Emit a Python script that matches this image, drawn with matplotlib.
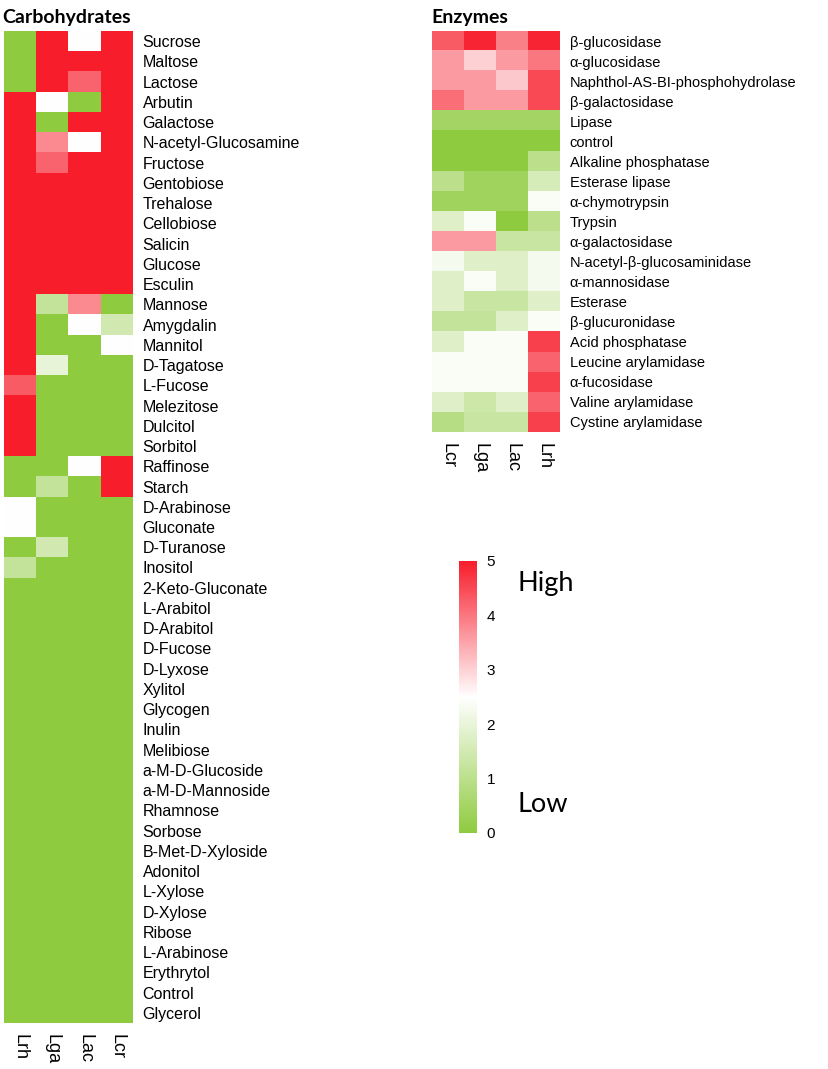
import numpy as np
import matplotlib
matplotlib.use("Agg")
import matplotlib.pyplot as plt
from matplotlib.colors import LinearSegmentedColormap

# ---------------- data ----------------
carb_strains = ["Lrh", "Lga", "Lac", "Lcr"]
carb_names = ["Sucrose", "Maltose", "Lactose", "Arbutin", "Galactose",
              "N-acetyl-Glucosamine", "Fructose", "Gentobiose", "Trehalose",
              "Cellobiose", "Salicin", "Glucose", "Esculin", "Mannose",
              "Amygdalin", "Mannitol", "D-Tagatose", "L-Fucose", "Melezitose",
              "Dulcitol", "Sorbitol", "Raffinose", "Starch", "D-Arabinose",
              "Gluconate", "D-Turanose", "Inositol", "2-Keto-Gluconate",
              "L-Arabitol", "D-Arabitol", "D-Fucose", "D-Lyxose", "Xylitol",
              "Glycogen", "Inulin", "Melibiose", "a-M-D-Glucoside",
              "a-M-D-Mannoside", "Rhamnose", "Sorbose", "B-Met-D-Xyloside",
              "Adonitol", "L-Xylose", "D-Xylose", "Ribose", "L-Arabinose",
              "Erythrytol", "Control", "Glycerol"]
carb_Lrh = [0, 0, 0, 5, 5, 5, 5, 5, 5, 5, 5, 5, 5, 5, 5, 5, 5, 4.3, 5, 5, 5,
            0, 0, 2.5, 2.5, 0, 1.2, 0, 0, 0, 0, 0, 0, 0, 0, 0, 0, 0, 0, 0,
            0, 0, 0, 0, 0, 0, 0, 0, 0]
carb_Lga = [5, 5, 5, 2.5, 0, 3.8, 4.2, 5, 5, 5, 5, 5, 5, 1.2, 0, 0, 2.0, 0,
            0, 0, 0, 0, 1.2, 0, 0, 1.5, 0, 0, 0, 0, 0, 0, 0, 0, 0, 0, 0, 0,
            0, 0, 0, 0, 0, 0, 0, 0, 0, 0, 0]
carb_Lac = [2.5, 5, 4.2, 0, 5, 2.5, 5, 5, 5, 5, 5, 5, 5, 3.8, 2.5, 0, 0, 0,
            0, 0, 0, 2.5, 0, 0, 0, 0, 0, 0, 0, 0, 0, 0, 0, 0, 0, 0, 0, 0,
            0, 0, 0, 0, 0, 0, 0, 0, 0, 0, 0]
carb_Lcr = [5, 5, 5, 5, 5, 5, 5, 5, 5, 5, 5, 5, 5, 0, 1.5, 2.5, 0, 0, 0, 0,
            0, 5, 5, 0, 0, 0, 0, 0, 0, 0, 0, 0, 0, 0, 0, 0, 0, 0, 0, 0, 0,
            0, 0, 0, 0, 0, 0, 0, 0]

enz_strains = ["Lcr", "Lga", "Lac", "Lrh"]
enz_names = ["β-glucosidase", "α-glucosidase", "Naphthol-AS-BI-phosphohydrolase",
             "β-galactosidase", "Lipase", "control", "Alkaline phosphatase",
             "Esterase lipase", "α-chymotrypsin", "Trypsin", "α-galactosidase",
             "N-acetyl-β-glucosaminidase", "α-mannosidase", "Esterase",
             "β-glucuronidase", "Acid phosphatase", "Leucine arylamidase",
             "α-fucosidase", "Valine arylamidase", "Cystine arylamidase"]
enz_Lcr = [4.3, 3.6, 3.6, 4.1, 0.5, 0, 0, 1.0, 0.4, 1.8, 3.6, 2.3, 1.8, 1.8,
           1.2, 1.8, 2.4, 2.4, 1.8, 0.9]
enz_Lga = [4.9, 3.0, 3.6, 3.6, 0.5, 0, 0, 0.4, 0.4, 2.4, 3.6, 1.8, 2.4, 1.3,
           1.2, 2.4, 2.4, 2.4, 1.4, 1.3]
enz_Lac = [3.9, 3.6, 3.1, 3.6, 0.5, 0, 0, 0.4, 0.4, 0, 1.3, 1.8, 1.8, 1.3,
           1.8, 2.4, 2.4, 2.4, 1.8, 1.3]
enz_Lrh = [4.9, 4.0, 4.5, 4.5, 0.5, 0, 1.0, 1.6, 2.4, 1.0, 1.3, 2.3, 2.3, 1.8,
           2.4, 4.6, 4.2, 4.6, 4.2, 4.6]

cbar_ticks = [0, 1, 2, 3, 4, 5]

# ---------------- figure ----------------
W, H = 829, 1069
fig = plt.figure(figsize=(W / 100, H / 100), dpi=100)
cmap = LinearSegmentedColormap.from_list(
    "gwr", [(0, "#8fcb3f"), (0.5, "#ffffff"), (1, "#f71d2b")])
label_font = ["Liberation Sans", "DejaVu Sans"]
title_font = ["Lato", "DejaVu Sans"]


def px_axes(x0, y0, x1, y1):
    return fig.add_axes([x0 / W, 1 - y1 / H, (x1 - x0) / W, (y1 - y0) / H])


def heat(ax, data, rows, cols, ysize):
    ax.imshow(data, cmap=cmap, vmin=0, vmax=5, aspect="auto",
              interpolation="nearest")
    ax.set_yticks(range(len(rows)))
    ax.set_yticklabels(rows, fontsize=ysize, family=label_font)
    ax.yaxis.tick_right()
    ax.set_xticks(range(len(cols)))
    ax.set_xticklabels(cols, rotation=-90, fontsize=13, family=label_font)
    ax.tick_params(axis="both", length=0)
    ax.tick_params(axis="y", pad=7)
    ax.tick_params(axis="x", pad=8)
    for s in ax.spines.values():
        s.set_visible(False)


carb = np.array([carb_Lrh, carb_Lga, carb_Lac, carb_Lcr]).T
enz = np.array([enz_Lcr, enz_Lga, enz_Lac, enz_Lrh]).T

ax1 = px_axes(4, 31, 133, 1023)
heat(ax1, carb, carb_names, carb_strains, 11.5)

ax2 = px_axes(432, 31, 560, 432)
heat(ax2, enz, enz_names, enz_strains, 10.5)

fig.text(2 / W, 1 - 18 / H, "Carbohydrates", fontsize=14, fontweight="bold",
         family=title_font, va="center", ha="left")
fig.text(431 / W, 1 - 18 / H, "Enzymes", fontsize=14, fontweight="bold",
         family=title_font, va="center", ha="left")

# colorbar
cax = px_axes(459, 561, 477, 833)
sm = plt.cm.ScalarMappable(cmap=cmap, norm=plt.Normalize(0, 5))
cb = fig.colorbar(sm, cax=cax, ticks=cbar_ticks)
cb.outline.set_visible(False)
cb.ax.tick_params(length=0, pad=7, labelsize=11)
for t in cb.ax.get_yticklabels():
    t.set_family(label_font)

fig.text(518 / W, 1 - 583 / H, "High", fontsize=19.5, family=title_font,
         va="center", ha="left")
fig.text(518 / W, 1 - 805 / H, "Low", fontsize=19.5, family=title_font,
         va="center", ha="left")

fig.savefig("out.png", dpi=100)
